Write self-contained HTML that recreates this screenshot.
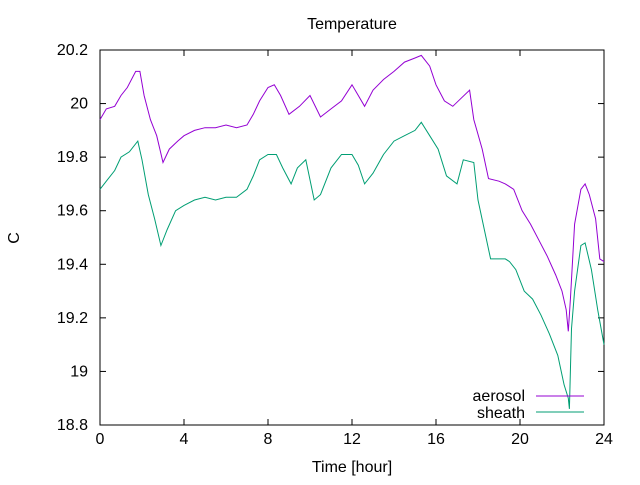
<!DOCTYPE html>
<html><head><meta charset="utf-8"><style>
body{margin:0;background:#fff}
svg text{font-family:"Liberation Sans",sans-serif;font-size:16px;fill:#000}
</style></head><body>
<svg id="chart" width="640" height="480" xmlns="http://www.w3.org/2000/svg">
<text x="352" y="29" text-anchor="middle">Temperature</text>
<text x="352" y="472" text-anchor="middle">Time [hour]</text>
<text x="19" y="238" text-anchor="middle" transform="rotate(-90 19 238)">C</text>
<g id="axes"></g>
<g id="series"></g>
<g>
<text x="525" y="401" text-anchor="end">aerosol</text>
<line x1="536" y1="396" x2="584" y2="396" stroke="#9400d3"/>
<text x="525" y="418" text-anchor="end">sheath</text>
<line x1="536" y1="412" x2="584" y2="412" stroke="#009e73"/>
</g>
</svg>
<script>
const xTicks=[0,4,8,12,16,20,24];
const yTicks=[18.8,19,19.2,19.4,19.6,19.8,20,20.2];
const yTickLabels=["18.8","19","19.2","19.4","19.6","19.8","20","20.2"];
const aerosolHours=[0,0.3,0.7,1,1.3,1.7,1.9,2.1,2.4,2.7,3,3.3,3.7,4,4.5,5,5.5,6,6.5,7,7.3,7.6,8,8.3,8.6,9,9.5,10,10.5,11,11.5,12,12.3,12.6,13,13.5,14,14.5,15,15.3,15.7,16,16.4,16.8,17.2,17.6,17.8,18.2,18.5,19,19.3,19.7,20.1,20.5,20.9,21.3,21.7,22,22.2,22.3,22.4,22.6,22.9,23.1,23.3,23.6,23.8,24];
const aerosolValues=[19.94,19.98,19.99,20.03,20.06,20.12,20.12,20.03,19.94,19.88,19.78,19.83,19.86,19.88,19.9,19.91,19.91,19.92,19.91,19.92,19.96,20.01,20.06,20.07,20.03,19.96,19.99,20.03,19.95,19.98,20.01,20.07,20.03,19.99,20.05,20.09,20.12,20.155,20.17,20.18,20.14,20.07,20.01,19.99,20.02,20.05,19.94,19.83,19.72,19.71,19.7,19.68,19.6,19.55,19.49,19.43,19.36,19.3,19.23,19.15,19.27,19.55,19.68,19.7,19.66,19.57,19.42,19.41];
const sheathHours=[0,0.3,0.7,1,1.4,1.8,2,2.3,2.6,2.9,3.2,3.6,4,4.5,5,5.5,6,6.5,7,7.3,7.6,8,8.4,8.7,9.1,9.4,9.8,10.2,10.5,11,11.5,12,12.3,12.6,13,13.5,14,14.5,15,15.3,15.7,16.1,16.5,17,17.3,17.8,18,18.3,18.6,19.3,19.5,19.8,20.2,20.6,21,21.4,21.8,22.1,22.3,22.35,22.45,22.6,22.9,23.1,23.4,23.7,24];
const sheathValues=[19.68,19.71,19.75,19.8,19.82,19.86,19.79,19.66,19.57,19.47,19.53,19.6,19.62,19.64,19.65,19.64,19.65,19.65,19.68,19.73,19.79,19.81,19.81,19.76,19.7,19.76,19.79,19.64,19.66,19.76,19.81,19.81,19.77,19.7,19.74,19.81,19.86,19.88,19.9,19.93,19.88,19.83,19.73,19.7,19.79,19.78,19.64,19.53,19.42,19.42,19.41,19.38,19.3,19.27,19.21,19.14,19.06,18.95,18.9,18.86,19.16,19.3,19.47,19.48,19.38,19.23,19.1];
const X0=100,X1=604,Y0=425,Y1=50;
const xs=h=>X0+(h-0)/(24-0)*(X1-X0);
const ys=v=>Y0-(v-18.8)/(20.2-18.8)*(Y0-Y1);
const NS="http://www.w3.org/2000/svg";
const axes=document.getElementById('axes');
function mk(tag,attrs,parent){const e=document.createElementNS(NS,tag);for(const k in attrs)e.setAttribute(k,attrs[k]);parent.appendChild(e);return e;}
const frame=mk('rect',{x:X0,y:Y1,width:X1-X0,height:Y0-Y1,fill:'none',stroke:'#000'},axes);


xTicks.forEach(t=>{
 const x=xs(t);
 const l1=mk('line',{x1:x,y1:Y0,x2:x,y2:Y0-6,stroke:'#000'},axes);
 
 
 const l2=mk('line',{x1:x,y1:Y1,x2:x,y2:Y1+6,stroke:'#000'},axes);
 
 
 const tx=mk('text',{x:x,y:Y0+19,'text-anchor':'middle'},axes);
 tx.textContent=String(t);
 
 
});
yTicks.forEach((t,i)=>{
 const y=ys(t);
 const l1=mk('line',{x1:X0,y1:y,x2:X0+6,y2:y,stroke:'#000'},axes);
 
 
 const l2=mk('line',{x1:X1,y1:y,x2:X1-6,y2:y,stroke:'#000'},axes);
 
 
 const tx=mk('text',{x:X0-12,y:y+5,'text-anchor':'end'},axes);
 tx.textContent=yTickLabels[i];
 
 
});
const ser=document.getElementById('series');
function line(hs,vs,color,name){
 const d=hs.map((h,i)=>(i?'L':'M')+xs(h).toFixed(1)+' '+ys(vs[i]).toFixed(1)).join(' ');
 const p=mk('path',{d:d,fill:'none',stroke:color,'stroke-width':1},ser);
 
 
}
line(aerosolHours,aerosolValues,'#9400d3','aerosol-line');
line(sheathHours,sheathValues,'#009e73','sheath-line');
</script>
</body></html>
